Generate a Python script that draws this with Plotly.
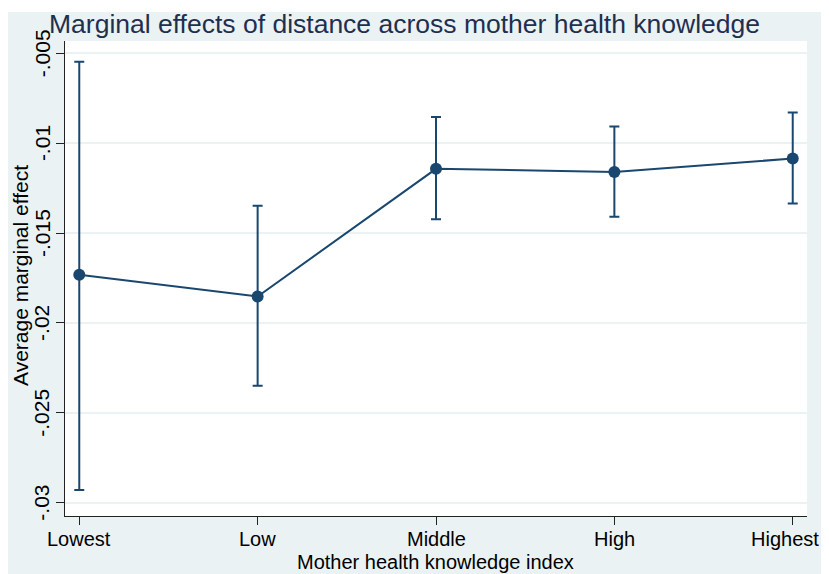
import plotly.graph_objects as go

categories = ["Lowest", "Low", "Middle", "High", "Highest"]
margins = [-0.01732, -0.01853, -0.01143, -0.01160, -0.01086]
ci_lower = [-0.02929, -0.02350, -0.01423, -0.01410, -0.01336]
ci_upper = [-0.00547, -0.01348, -0.00855, -0.00908, -0.00830]
ytick_vals = [-0.005, -0.01, -0.015, -0.02, -0.025, -0.03]
ytick_text = ["-.005", "-.01", "-.015", "-.02", "-.025", "-.03"]

xpos = list(range(1, len(categories) + 1))
err_plus = [u - m for u, m in zip(ci_upper, margins)]
err_minus = [m - l for m, l in zip(margins, ci_lower)]

NAVY = "#1a476f"
BG = "#eaf2f3"
FONT = "Liberation Sans, Arial, sans-serif"

fig = go.Figure()
fig.add_trace(go.Scatter(
    x=xpos, y=margins, mode="lines+markers",
    line=dict(color=NAVY, width=2),
    marker=dict(color=NAVY, size=12),
    error_y=dict(type="data", symmetric=False, array=err_plus, arrayminus=err_minus,
                 color=NAVY, thickness=2, width=5),
    showlegend=False,
))

# page body has an 8px margin, so the figure starts at (8, 8) on screen
W, H = 821, 566
L, R, T, B = 57, 22, 33, 58
pw, ph = W - L - R, H - T - B

def px_x(x):
    return (x - L) / pw

def px_y(y):
    return (H - B - y) / ph

# white strips: top (graph region starts 4px below figure top) and right edge
fig.add_shape(type="rect", xref="paper", yref="paper",
              x0=px_x(-2), x1=px_x(W + 2), y0=px_y(4), y1=px_y(-2),
              fillcolor="white", line=dict(width=0), layer="below")
fig.add_shape(type="rect", xref="paper", yref="paper",
              x0=px_x(817), x1=px_x(W + 2), y0=px_y(H + 2), y1=px_y(-2),
              fillcolor="white", line=dict(width=0), layer="below")

# tick labels and axis titles as annotations for exact placement
for i, (xv, lab) in enumerate(zip(xpos, categories)):
    fig.add_annotation(x=xv, xref="x", y=px_y(531), yref="paper",
                       text=lab, showarrow=False, xanchor="center", yanchor="middle",
                       xshift=-8 if i == len(categories) - 1 else 0,
                       font=dict(size=20, color="black", family=FONT))
for yv, lab in zip(ytick_vals, ytick_text):
    fig.add_annotation(x=px_x(34), xref="paper", y=yv, yref="y",
                       text=lab, showarrow=False, textangle=-90,
                       xanchor="center", yanchor="middle",
                       font=dict(size=21, color="black", family=FONT))
fig.add_annotation(x=px_x(427), xref="paper", y=px_y(554), yref="paper",
                   text="Mother health knowledge index", showarrow=False,
                   xanchor="center", yanchor="middle",
                   font=dict(size=20, color="black", family=FONT))
fig.add_annotation(x=px_x(12), xref="paper", y=px_y(268), yref="paper",
                   text="Average marginal effect", showarrow=False, textangle=-90,
                   xanchor="center", yanchor="middle",
                   font=dict(size=21, color="black", family=FONT))

fig.update_layout(
    width=W, height=H,
    margin=dict(l=L, r=R, t=T, b=B),
    paper_bgcolor=BG, plot_bgcolor="white",
    font=dict(family=FONT, color="black", size=21),
    title=dict(text="Marginal effects of distance across mother health knowledge",
               font=dict(size=26.5, color="#1e2f4f", family=FONT),
               xref="container", x=396.5 / W, xanchor="center",
               yref="container", y=1 - 16 / H, yanchor="middle"),
    xaxis=dict(range=[0.92, 5.08], tickvals=xpos, showticklabels=False,
               showgrid=False, zeroline=False, automargin=False,
               showline=True, linecolor="#222", linewidth=1.3,
               ticks="outside", ticklen=8, tickcolor="#222", tickwidth=1.3),
    yaxis=dict(range=[-0.03074, -0.00432], tickvals=ytick_vals, showticklabels=False,
               automargin=False,
               showgrid=True, gridcolor=BG, gridwidth=1.5, zeroline=False,
               showline=True, linecolor="#222", linewidth=1.3,
               ticks="outside", ticklen=8, tickcolor="#222", tickwidth=1.3),
)

# hide page scrollbars so the full figure width stays visible
fig.write_html("out.html",
               post_script="document.documentElement.style.overflow='hidden';"
                           "document.body.style.overflow='hidden';")
